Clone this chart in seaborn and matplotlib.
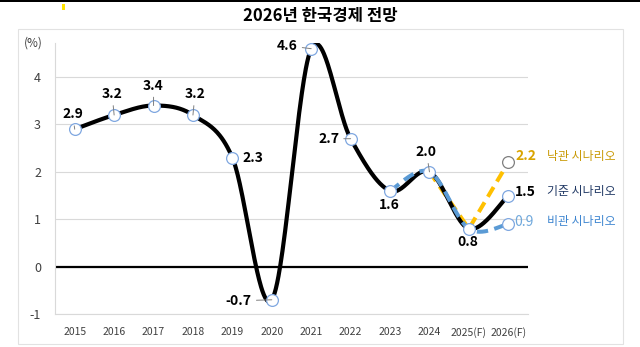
import numpy as np
import pandas as pd
import matplotlib
matplotlib.use("Agg")
import matplotlib.pyplot as plt
import seaborn as sns
from matplotlib.patches import Rectangle

# ---- data ----
years = ["2015", "2016", "2017", "2018", "2019", "2020", "2021",
         "2022", "2023", "2024", "2025(F)", "2026(F)"]
base = [2.9, 3.2, 3.4, 3.2, 2.3, -0.7, 4.6, 2.7, 1.6, 2.0, 0.8, 1.5]
optimistic_years = ["2024", "2025(F)", "2026(F)"]
optimistic = [2.0, 0.8, 2.2]
pessimistic_years = ["2023", "2024", "2025(F)", "2026(F)"]
pessimistic = [1.6, 2.0, 0.8, 0.9]
scenario_names = ["낙관 시나리오", "기준 시나리오", "비관 시나리오"]
yticks = [-1, 0, 1, 2, 3, 4]

sns.set_theme(style="white")
plt.rcParams["font.family"] = ["Noto Sans CJK KR", "DejaVu Sans"]

BLACK = "#000000"
GOLD = "#FFC000"
BLUE = "#5B9BD5"
GRID = "#D9D9D9"


def smooth(xs, ys, n=60):
    """Bezier smoothing through every point (Catmull-Rom style tangents)."""
    pts = np.column_stack([np.asarray(xs, float), np.asarray(ys, float)])
    out = []
    t = np.linspace(0, 1, n)[:, None]
    for i in range(len(pts) - 1):
        p0 = pts[i - 1] if i > 0 else pts[i]
        p3 = pts[i + 2] if i + 2 < len(pts) else pts[i + 1]
        a, d = pts[i], pts[i + 1]
        b = a + (d - p0) / 6.0
        c = d - (p3 - a) / 6.0
        seg = ((1 - t) ** 3) * a + 3 * ((1 - t) ** 2) * t * b + 3 * (1 - t) * t ** 2 * c + t ** 3 * d
        out.append(seg if i == 0 else seg[1:])
    arr = np.vstack(out)
    return pd.DataFrame({"x": arr[:, 0], "y": arr[:, 1]})


pos = {y: i for i, y in enumerate(years)}
xb = [pos[y] for y in years]
xo = [pos[y] for y in optimistic_years]
xp = [pos[y] for y in pessimistic_years]

fig = plt.figure(figsize=(6.4, 3.47), dpi=100)
W, H = 640, 347

# outer frame and top strip
fig.patches.append(Rectangle((18 / W, 1 - 344 / H), (623 - 18) / W, (344 - 29) / H,
                             transform=fig.transFigure, fill=False, ec="#E2E2E2", lw=0.8))
fig.patches.append(Rectangle((0, 1 - 1.6 / H), 1, 1.6 / H, transform=fig.transFigure,
                             color="black", lw=0))
fig.patches.append(Rectangle((62 / W, 1 - 10 / H), 3 / W, 6 / H, transform=fig.transFigure,
                             color="#FFE400", lw=0))

ax = fig.add_axes([55 / W, 1 - 314 / H, (528 - 55) / W, (314 - 43) / H])
ax.set_facecolor("white")

# curves: optimistic drawn with straight segments, the others smoothed
sns.lineplot(x=xo, y=optimistic, ax=ax, color=GOLD, lw=2.9,
             sort=False, estimator=None, zorder=2)
ax.lines[-1].set_dashes((2.8, 1.6))
sns.lineplot(data=smooth(xb, base), x="x", y="y", ax=ax, color=BLACK, lw=3.0,
             sort=False, estimator=None, zorder=3)
sns.lineplot(data=smooth(xp, pessimistic), x="x", y="y", ax=ax, color=BLUE, lw=2.9,
             sort=False, estimator=None, zorder=4)
ax.lines[-1].set_dashes((2.8, 1.6))

# markers
sns.scatterplot(x=xb, y=base, ax=ax, s=72, color="white", edgecolor="#7FA7E0",
                linewidth=0.9, zorder=6)
sns.scatterplot(x=[xo[-1]], y=[optimistic[-1]], ax=ax, s=72, color="white",
                edgecolor="#7F7F7F", linewidth=0.9, zorder=6)
sns.scatterplot(x=[xp[-1]], y=[pessimistic[-1]], ax=ax, s=72, color="white",
                edgecolor="#7FA7E0", linewidth=0.9, zorder=6)

# zero line, grid, axes
ax.axhline(0, color="black", lw=1.6, zorder=1.5)
ax.set_xlim(-0.5, len(years) - 0.5)
ax.set_ylim(-1, 4.72)
ax.set_yticks(yticks)
ax.set_yticklabels([str(v) for v in yticks])
ax.set_xticks(xb)
ax.set_xticklabels(years)
ax.yaxis.grid(True, color=GRID, lw=0.8, zorder=0)
ax.xaxis.grid(False)
ax.set_axisbelow(True)
for s in ["top", "right"]:
    ax.spines[s].set_visible(False)
for s in ["left", "bottom"]:
    ax.spines[s].set_color(GRID)
    ax.spines[s].set_linewidth(0.8)
ax.tick_params(axis="y", length=0, pad=10, labelsize=9, labelcolor="#404040")
ax.tick_params(axis="x", length=0, pad=9.5, labelsize=7.5, labelcolor="#404040")
ax.set_xlabel("")
ax.set_ylabel("")

# data labels: (dx px, dy px, leader line)
PT = 0.72
label_specs = [
    (-2, 15, True), (-2, 21, True), (0, 20, True), (2, 21, True),
    (21, 0, False), (-33, -1, True), (-24, 3, True), (-22, 0, True),
    (-1, -14, False), (-3, 20, True), (-1, -13, False), (17, 4, False),
]
for (dx, dy, leader), xi, v in zip(label_specs, xb, base):
    kw = dict(textcoords="offset points", ha="center", va="center",
              fontsize=10, fontweight="bold", color="black", zorder=8,
              annotation_clip=False)
    if leader:
        kw["arrowprops"] = dict(arrowstyle="-", color="#7F7F7F", lw=0.7,
                                shrinkA=1, shrinkB=0)
    ax.annotate(f"{v:.1f}", xy=(xi, v), xytext=(dx * PT, dy * PT), **kw)

ax.annotate(f"{optimistic[-1]:.1f}", xy=(xo[-1], optimistic[-1]), xytext=(18 * PT, 6 * PT),
            textcoords="offset points", ha="center", va="center", fontsize=10,
            fontweight="bold", color="#D9A400", annotation_clip=False)
ax.annotate(f"{pessimistic[-1]:.1f}", xy=(xp[-1], pessimistic[-1]), xytext=(16 * PT, 2 * PT),
            textcoords="offset points", ha="center", va="center", fontsize=10,
            color="#6FA8DC", annotation_clip=False)

# scenario names
name_colors = ["#C99A06", "#203864", "#3D85D0"]
name_vals = [(optimistic[-1], 6), (base[-1], 4), (pessimistic[-1], 2)]
for name, col, (v, dy) in zip(scenario_names, name_colors, name_vals):
    ax.annotate(name, xy=(xb[-1], v), xytext=(39 * PT, dy * PT), textcoords="offset points",
                ha="left", va="center", fontsize=8.6, color=col, annotation_clip=False)

fig.text(33 / W, 1 - 43 / H, "(%)", ha="center", va="center", fontsize=8.5, color="#404040")
fig.text(0.5, 1 - 16 / H, "2026년 한국경제 전망", ha="center", va="center",
         fontsize=12, fontweight="bold", color="black")

fig.savefig("out.png", dpi=100)
